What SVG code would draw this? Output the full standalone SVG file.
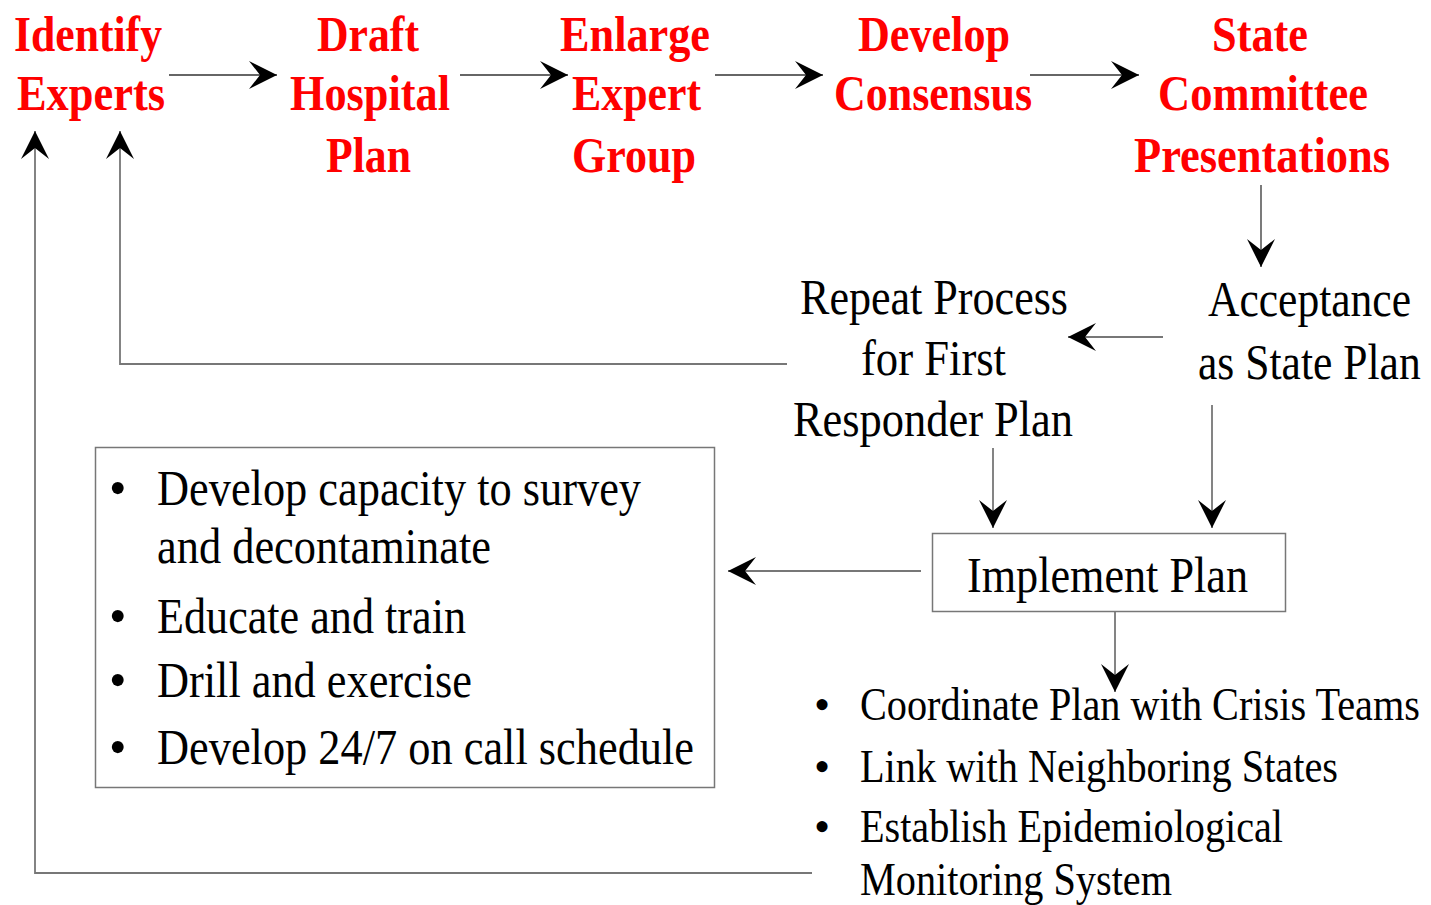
<svg xmlns="http://www.w3.org/2000/svg" width="1431" height="905" viewBox="0 0 1431 905">
<style>
  .red { font-family: "Liberation Serif", "Times New Roman", serif; font-weight: bold; font-size: 51px; fill: #ff0000; }
  .txt { font-family: "Liberation Serif", "Times New Roman", serif; font-size: 50px; fill: #000; }
  .sm { font-family: "Liberation Serif", "Times New Roman", serif; font-size: 46px; fill: #000; }
  .dark { fill: none; stroke: #333; stroke-width: 1.3; }
  .gray { fill: none; stroke: #777; stroke-width: 1.8; }
  .box { fill: #fff; stroke: #777; stroke-width: 1.5; }
</style>
<defs>
  <marker id="ah" markerUnits="userSpaceOnUse" markerWidth="30" markerHeight="30" refX="28" refY="14" orient="auto">
    <path d="M28,14 L0,0 L11,14 L0,28 Z" fill="#000"/>
  </marker>
</defs>
<rect width="1431" height="905" fill="#fff"/>

<g id="connectors">
  <path class="dark" d="M169,75 H277" marker-end="url(#ah)"/>
  <path class="dark" d="M460,75 H568" marker-end="url(#ah)"/>
  <path class="dark" d="M715,75 H823" marker-end="url(#ah)"/>
  <path class="dark" d="M1030,75 H1139" marker-end="url(#ah)"/>
  <path class="dark" d="M1261,185 V267" marker-end="url(#ah)"/>
  <path class="gray" d="M1163,337 H1068" marker-end="url(#ah)"/>
  <path class="gray" d="M787,364 H120 V131" marker-end="url(#ah)"/>
  <path class="gray" d="M993,448 V528" marker-end="url(#ah)"/>
  <path class="gray" d="M1212,405 V528" marker-end="url(#ah)"/>
  <path class="gray" d="M921,571 H728" marker-end="url(#ah)"/>
  <path class="gray" d="M1115,612 V692" marker-end="url(#ah)"/>
  <path class="gray" d="M812,873 H35 V131" marker-end="url(#ah)"/>
</g>

<g id="identify-experts">
  <text class="red" x="14" y="51" textLength="148" lengthAdjust="spacingAndGlyphs">Identify</text>
  <text class="red" x="17" y="110" textLength="148" lengthAdjust="spacingAndGlyphs">Experts</text>
</g>
<g id="draft-hospital-plan">
  <text class="red" x="317" y="51" textLength="102" lengthAdjust="spacingAndGlyphs">Draft</text>
  <text class="red" x="290" y="110" textLength="160" lengthAdjust="spacingAndGlyphs">Hospital</text>
  <text class="red" x="326" y="172" textLength="85" lengthAdjust="spacingAndGlyphs">Plan</text>
</g>
<g id="enlarge-expert-group">
  <text class="red" x="560" y="51" textLength="150" lengthAdjust="spacingAndGlyphs">Enlarge</text>
  <text class="red" x="572" y="110" textLength="129" lengthAdjust="spacingAndGlyphs">Expert</text>
  <text class="red" x="572" y="172" textLength="124" lengthAdjust="spacingAndGlyphs">Group</text>
</g>
<g id="develop-consensus">
  <text class="red" x="858" y="51" textLength="152" lengthAdjust="spacingAndGlyphs">Develop</text>
  <text class="red" x="834" y="110" textLength="198" lengthAdjust="spacingAndGlyphs">Consensus</text>
</g>
<g id="state-committee-presentations">
  <text class="red" x="1212" y="51" textLength="96" lengthAdjust="spacingAndGlyphs">State</text>
  <text class="red" x="1158" y="110" textLength="210" lengthAdjust="spacingAndGlyphs">Committee</text>
  <text class="red" x="1134" y="172" textLength="256" lengthAdjust="spacingAndGlyphs">Presentations</text>
</g>

<g id="acceptance">
  <text class="txt" transform="translate(1208,316) scale(0.86,1)" x="0" y="0" textLength="236" lengthAdjust="spacingAndGlyphs">Acceptance</text>
  <text class="txt" transform="translate(1198,379) scale(0.86,1)" x="0" y="0" textLength="259" lengthAdjust="spacingAndGlyphs">as State Plan</text>
</g>
<g id="repeat-process">
  <text class="txt" x="800" y="314" textLength="268" lengthAdjust="spacingAndGlyphs">Repeat Process</text>
  <text class="txt" x="861" y="375" textLength="145" lengthAdjust="spacingAndGlyphs">for First</text>
  <text class="txt" x="793" y="436" textLength="280" lengthAdjust="spacingAndGlyphs">Responder Plan</text>
</g>

<g id="implement-plan">
  <rect class="box" x="932.5" y="533.5" width="353" height="78"/>
  <text class="txt" x="967" y="592" textLength="281" lengthAdjust="spacingAndGlyphs">Implement Plan</text>
</g>

<g id="training-list">
  <rect class="box" x="95.5" y="447.5" width="619" height="340"/>
  <text class="txt" x="109" y="505">•</text>
  <text class="txt" x="157" y="505" textLength="484" lengthAdjust="spacingAndGlyphs">Develop capacity to survey</text>
  <text class="txt" x="157" y="563" textLength="334" lengthAdjust="spacingAndGlyphs">and decontaminate</text>
  <text class="txt" x="109" y="633">•</text>
  <text class="txt" x="157" y="633" textLength="309" lengthAdjust="spacingAndGlyphs">Educate and train</text>
  <text class="txt" x="109" y="697">•</text>
  <text class="txt" x="157" y="697" textLength="315" lengthAdjust="spacingAndGlyphs">Drill and exercise</text>
  <text class="txt" x="109" y="764">•</text>
  <text class="txt" x="157" y="764" textLength="537" lengthAdjust="spacingAndGlyphs">Develop 24/7 on call schedule</text>
</g>

<g id="coordination-list">
  <text class="sm" x="814" y="720">•</text>
  <text class="sm" transform="translate(860,720) scale(0.86,1)" x="0" y="0" textLength="651" lengthAdjust="spacingAndGlyphs">Coordinate Plan with Crisis Teams</text>
  <text class="sm" x="814" y="782">•</text>
  <text class="sm" x="860" y="782" textLength="478" lengthAdjust="spacingAndGlyphs">Link with Neighboring States</text>
  <text class="sm" x="814" y="842">•</text>
  <text class="sm" x="860" y="842" textLength="423" lengthAdjust="spacingAndGlyphs">Establish Epidemiological</text>
  <text class="sm" x="860" y="895" textLength="312" lengthAdjust="spacingAndGlyphs">Monitoring System</text>
</g>
</svg>
